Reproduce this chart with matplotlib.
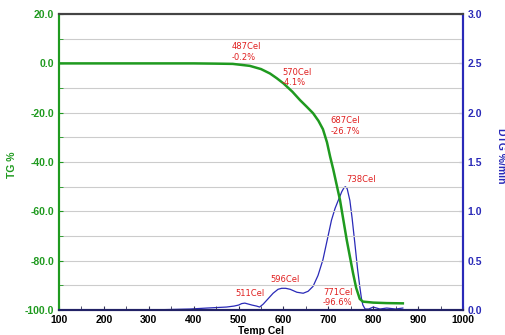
import matplotlib.pyplot as plt
import numpy as np

plt.rcParams['font.family'] = ['Liberation Sans', 'DejaVu Sans']

# TG curve (left axis, %)
tg_temp = [100, 200, 300, 400, 450, 487, 525, 550, 570, 585, 600, 620, 637, 652, 666, 678, 688,
           697, 704, 711, 726, 741, 755, 762, 770, 777, 800, 830, 866]
tg_val = [0.0, 0.0, 0.0, 0.0, -0.1, -0.2, -1.0, -2.3, -4.1, -6.0, -8.1, -11.5, -14.9, -17.6, -20.2,
          -23.3, -26.7, -32.0, -37.8, -43.0, -55.4, -71.6, -85.0, -91.0, -95.5, -96.6, -97.0, -97.2,
          -97.3]

# DTG curve (right axis, %/min)
dtg_temp = [100, 200, 300, 392, 430, 473, 490, 500, 507, 514, 522, 530, 540, 547, 555, 565, 577,
            588, 596, 605, 615, 630, 644, 655, 666, 677, 688, 698, 707, 715, 722, 730, 735, 738,
            742, 748, 753, 759, 765, 770, 774, 777, 782, 790, 800, 815, 830, 850, 866]
dtg_val = [0.0, 0.0, 0.0, 0.01, 0.02, 0.03, 0.04, 0.05, 0.065, 0.07, 0.06, 0.05, 0.04, 0.03, 0.06,
           0.11, 0.17, 0.21, 0.22, 0.22, 0.21, 0.18, 0.17, 0.19, 0.24, 0.35, 0.51, 0.72, 0.91, 1.03,
           1.11, 1.20, 1.24, 1.25, 1.23, 1.11, 0.93, 0.68, 0.42, 0.24, 0.11, 0.05, 0.01, 0.01, 0.03,
           0.01, 0.02, 0.01, 0.02]

# annotations: (x, TG-axis y, text)
notes = [(485, 4.6, "487Cel\n-0.2%"),
         (597, -5.7, "570Cel\n-4.1%"),
         (704, -25.4, "687Cel\n-26.7%"),
         (739, -46.9, "738Cel"),
         (572, -87.8, "596Cel"),
         (494, -93.5, "511Cel"),
         (688, -94.9, "771Cel\n-96.6%")]

green = "#1f9a1f"
blue = "#2a2ab8"

fig = plt.figure(figsize=(5.06, 3.35), dpi=100)
ax = fig.add_axes([0.1166, 0.0746, 0.7984, 0.8834])
ax2 = ax.twinx()

ax.plot(tg_temp, tg_val, color=green, lw=1.8, zorder=3)
ax2.plot(dtg_temp, dtg_val, color=blue, lw=0.9)

ax.set_xlim(100, 1000)
ax.set_ylim(-100, 20)
ax2.set_ylim(0, 3)
ax.set_xticks(np.arange(100, 1001, 100))
ax.set_xticks(np.arange(150, 1000, 50), minor=True)
ax.set_yticks(np.arange(-100, 21, 20))
ax.set_yticks(np.arange(-90, 20, 20), minor=True)
ax2.set_yticks(np.arange(0, 3.01, 0.5))
ax2.set_yticks(np.arange(0.25, 3, 0.5), minor=True)

ax.grid(axis="y", which="both", color="#cccccc", lw=0.8)
ax.set_axisbelow(True)
ax.set_zorder(ax2.get_zorder() + 1)
ax.patch.set_visible(False)

ax.set_yticklabels([f"{v:.1f}" for v in np.arange(-100, 21, 20)])
ax2.set_yticklabels([f"{v:.1f}" for v in np.arange(0, 3.01, 0.5)])

ax.tick_params(axis="x", which="both", direction="in", labelsize=7.5, length=3, colors="#333355")
ax.tick_params(axis="x", labelcolor="black")
ax.tick_params(axis="y", which="both", direction="in", labelsize=7.5, length=3, colors=green)
ax2.tick_params(axis="y", which="both", direction="in", labelsize=7.5, length=3, colors=blue)
for lab in ax.get_xticklabels() + ax.get_yticklabels() + ax2.get_yticklabels():
    lab.set_fontweight("bold")

for a in (ax, ax2):
    a.spines["left"].set_color(green)
    a.spines["left"].set_linewidth(1.5)
    a.spines["right"].set_color(blue)
    a.spines["right"].set_linewidth(1.5)
    a.spines["top"].set_color("#444444")
    a.spines["top"].set_linewidth(1.5)
    a.spines["bottom"].set_color("#222266")
    a.spines["bottom"].set_linewidth(1.5)

ax.set_xlabel("Temp Cel", fontsize=7.5, fontweight="bold", labelpad=1)
ax.set_ylabel("TG %", fontsize=7.5, fontweight="bold", color=green)
ax.yaxis.set_label_coords(-0.104, 0.49)
ax2.set_ylabel("DTG %/min", fontsize=7.5, fontweight="bold", color=blue, rotation=270, va="center")
ax2.yaxis.set_label_coords(1.095, 0.52)

for x, y, t in notes:
    ax.text(x, y, t, color="#e02020", fontsize=6, family="DejaVu Sans",
            ha="left", va="center", linespacing=1.2)

fig.savefig("out.png", dpi=100)
